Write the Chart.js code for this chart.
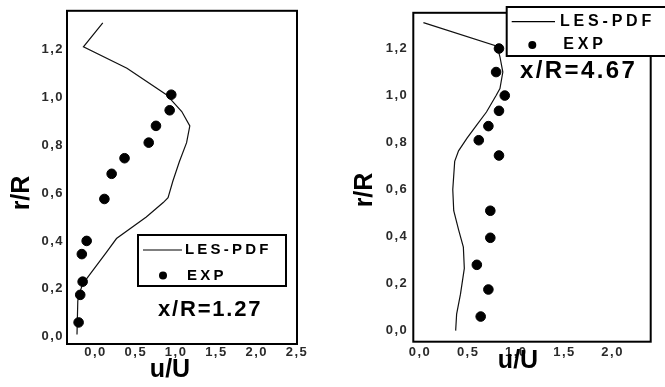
<!DOCTYPE html>
<html>
<head>
<meta charset="utf-8">
<script src="https://cdn.jsdelivr.net/npm/chart.js@4.4.1/dist/chart.umd.min.js"></script>
<style>
  html, body { margin: 0; padding: 0; background: #fff; }
  #wrap { position: relative; width: 665px; height: 387px; overflow: hidden; }
  .panel { position: absolute; top: 0; width: 332px; height: 387px; }
  #leftPanel { left: 0; }
  #rightPanel { left: 333px; }
</style>
</head>
<body>
<div id="wrap">
  <div class="panel" id="leftPanel"><canvas id="chartLeft" width="332" height="387"></canvas></div>
  <div class="panel" id="rightPanel"><canvas id="chartRight" width="332" height="387"></canvas></div>
</div>
<script>
/* ============================================
   Velocity profiles u/U vs r/R, LES-PDF vs EXP
============================================ */

// x/R = 1.27
const lesU127 = [0.09, -0.15, 0.39, 0.88, 1.07, 1.17, 1.13, 1.04, 0.96, 0.90, 0.84, 0.63, 0.26, 0.13, -0.07, -0.16, -0.20, -0.22, -0.23];
const lesR127 = [1.31, 1.21, 1.12, 1.01, 0.94, 0.88, 0.81, 0.73, 0.65, 0.58, 0.56, 0.50, 0.41, 0.35, 0.26, 0.22, 0.18, 0.15, 0.01];
const expU127 = [0.94, 0.92, 0.75, 0.66, 0.36, 0.20, 0.11, -0.11, -0.17, -0.16, -0.19, -0.21];
const expR127 = [1.01, 0.945, 0.88, 0.81, 0.745, 0.68, 0.575, 0.40, 0.345, 0.23, 0.175, 0.06];

// x/R = 4.67
const lesU467 = [0.035, 0.80, 0.83, 0.86, 0.83, 0.79, 0.69, 0.59, 0.49, 0.40, 0.36, 0.34, 0.35, 0.40, 0.45, 0.46, 0.42, 0.38, 0.37];
const lesR467 = [1.31, 1.21, 1.165, 1.10, 1.03, 1.00, 0.93, 0.875, 0.82, 0.765, 0.72, 0.60, 0.51, 0.43, 0.355, 0.265, 0.155, 0.07, 0.0];
const expU467 = [0.82, 0.79, 0.88, 0.82, 0.71, 0.61, 0.82, 0.73, 0.73, 0.59, 0.71, 0.63];
const expR467 = [1.20, 1.10, 1.00, 0.935, 0.87, 0.81, 0.745, 0.51, 0.395, 0.28, 0.175, 0.06];

// Axis ticks
const xTicks127 = [0, 0.5, 1.0, 1.5, 2.0, 2.5];
const xTicks467 = [0, 0.5, 1.0, 1.5, 2.0];
const yTicks = [0, 0.2, 0.4, 0.6, 0.8, 1.0, 1.2];

const FONT = "'Liberation Sans', Arial, sans-serif";

/**
 * Frame, axis titles, boxed legend and case label
 */
const panelDecor = {
    id: 'panelDecor',
    beforeDraw(chart) {
        // wide tick lettering like the original
        chart.ctx.letterSpacing = '1.5px';
    },
    afterDraw(chart, args, opts) {
        const { ctx, chartArea: a } = chart;
        ctx.save();
        ctx.fillStyle = '#000';
        ctx.strokeStyle = '#000';

        // plot frame
        ctx.lineWidth = 2;
        ctx.strokeRect(a.left, a.top, a.right - a.left, a.bottom - a.top);

        // axis titles
        ctx.letterSpacing = '0px';
        ctx.font = `bold 25px ${FONT}`;
        ctx.textAlign = 'center';
        ctx.textBaseline = 'middle';
        ctx.fillText('u/U', opts.xTitle.x, opts.xTitle.y);
        ctx.save();
        ctx.translate(opts.yTitle.x, opts.yTitle.y);
        ctx.rotate(-Math.PI / 2);
        ctx.fillText('r/R', 0, 0);
        ctx.restore();

        // legend box
        const lg = opts.legend;
        ctx.fillStyle = '#fff';
        ctx.fillRect(lg.x, lg.y, lg.w, lg.h);
        ctx.lineWidth = 2;
        ctx.strokeRect(lg.x, lg.y, lg.w, lg.h);
        ctx.fillStyle = '#000';
        ctx.lineWidth = 1.2;
        ctx.beginPath();
        ctx.moveTo(lg.lineX0, lg.row1);
        ctx.lineTo(lg.lineX1, lg.row1);
        ctx.stroke();
        ctx.beginPath();
        ctx.arc(lg.dotX, lg.row2, 4, 0, Math.PI * 2);
        ctx.fill();
        ctx.font = `bold ${lg.size}px ${FONT}`;
        ctx.letterSpacing = lg.spacing;
        ctx.textAlign = 'left';
        ctx.fillText('LES-PDF', lg.textX, lg.row1);
        ctx.fillText('EXP', lg.textX2, lg.row2);

        // case label
        const nt = opts.note;
        ctx.font = `bold ${nt.size}px ${FONT}`;
        ctx.letterSpacing = nt.spacing;
        ctx.fillText(nt.text, nt.x, nt.y);

        ctx.restore();
    }
};

function toPoints(us, rs) {
    return us.map((u, i) => ({ x: u, y: rs[i] }));
}

function commaLabel(v) {
    return Number(v).toFixed(1).replace('.', ',');
}

/**
 * Build one profile panel
 */
function makePanel(canvasId, cfg) {
    const ctx = document.getElementById(canvasId);
    const tickFont = { family: FONT, size: 13, weight: 'bold' };
    return new Chart(ctx, {
        type: 'scatter',
        data: {
            datasets: [
                {
                    label: 'LES-PDF',
                    data: toPoints(cfg.lesU, cfg.lesR),
                    showLine: true,
                    borderColor: '#111',
                    borderWidth: 1.2,
                    pointRadius: 0,
                    tension: 0,
                    order: 2
                },
                {
                    label: 'EXP',
                    data: toPoints(cfg.expU, cfg.expR),
                    backgroundColor: '#000',
                    borderColor: '#000',
                    pointRadius: 4.8,
                    order: 1
                }
            ]
        },
        options: {
            responsive: false,
            animation: false,
            layout: { padding: cfg.padding },
            plugins: {
                legend: { display: false },
                tooltip: { enabled: false },
                panelDecor: cfg.decor
            },
            scales: {
                x: {
                    type: 'linear',
                    min: cfg.xMin,
                    max: cfg.xMax,
                    grid: { display: false, drawTicks: false },
                    border: { display: false },
                    afterBuildTicks: scale => { scale.ticks = cfg.xTicks.map(v => ({ value: v })); },
                    afterFit: scale => { scale.height = cfg.xAxisHeight; },
                    ticks: {
                        padding: cfg.xTickPad,
                        maxRotation: 0,
                        autoSkip: false,
                        color: '#2a2a2a',
                        font: tickFont,
                        callback: commaLabel
                    }
                },
                y: {
                    type: 'linear',
                    min: cfg.yMin,
                    max: cfg.yMax,
                    grid: { display: false, drawTicks: false },
                    border: { display: false },
                    afterBuildTicks: scale => { scale.ticks = yTicks.map(v => ({ value: v })); },
                    afterFit: scale => { scale.width = cfg.yAxisWidth; },
                    ticks: {
                        padding: cfg.yTickPad,
                        autoSkip: false,
                        color: '#2a2a2a',
                        font: tickFont,
                        callback: commaLabel
                    }
                }
            }
        },
        plugins: [panelDecor]
    });
}

document.addEventListener('DOMContentLoaded', () => {
    makePanel('chartLeft', {
        lesU: lesU127, lesR: lesR127, expU: expU127, expR: expR127,
        xTicks: xTicks127,
        xMin: -0.354, xMax: 2.5, yMin: -0.03, yMax: 1.36,
        padding: { left: 0, top: 8, right: 35, bottom: 0 },
        yAxisWidth: 67, xAxisHeight: 43, xTickPad: 1, yTickPad: 3,
        decor: {
            xTitle: { x: 170, y: 370 },
            yTitle: { x: 22, y: 193 },
            legend: {
                x: 138, y: 235, w: 148, h: 51,
                lineX0: 143, lineX1: 182, row1: 250, row2: 275.5,
                dotX: 163, textX: 185, textX2: 187,
                size: 15, spacing: '3.2px'
            },
            note: { text: 'x/R=1.27', x: 158, y: 309.5, size: 22, spacing: '1.8px' }
        }
    });

    makePanel('chartRight', {
        lesU: lesU467, lesR: lesR467, expU: expU467, expR: expR467,
        xTicks: xTicks467,
        xMin: -0.07, xMax: 2.396, yMin: -0.047, yMax: 1.352,
        padding: { left: 0, top: 5, right: 14.3, bottom: 0 },
        yAxisWidth: 80.3, xAxisHeight: 45.3, xTickPad: 3, yTickPad: 5,
        decor: {
            xTitle: { x: 185, y: 361.5 },
            yTitle: { x: 32, y: 190 },
            legend: {
                x: 173.7, y: 7, w: 200, h: 49,
                lineX0: 178.7, lineX1: 222, row1: 21.7, row2: 45,
                dotX: 199.3, textX: 227, textX2: 230.3,
                size: 16, spacing: '3.8px'
            },
            note: { text: 'x/R=4.67', x: 187, y: 71, size: 24, spacing: '2.4px' }
        }
    });
});
</script>
</body>
</html>
